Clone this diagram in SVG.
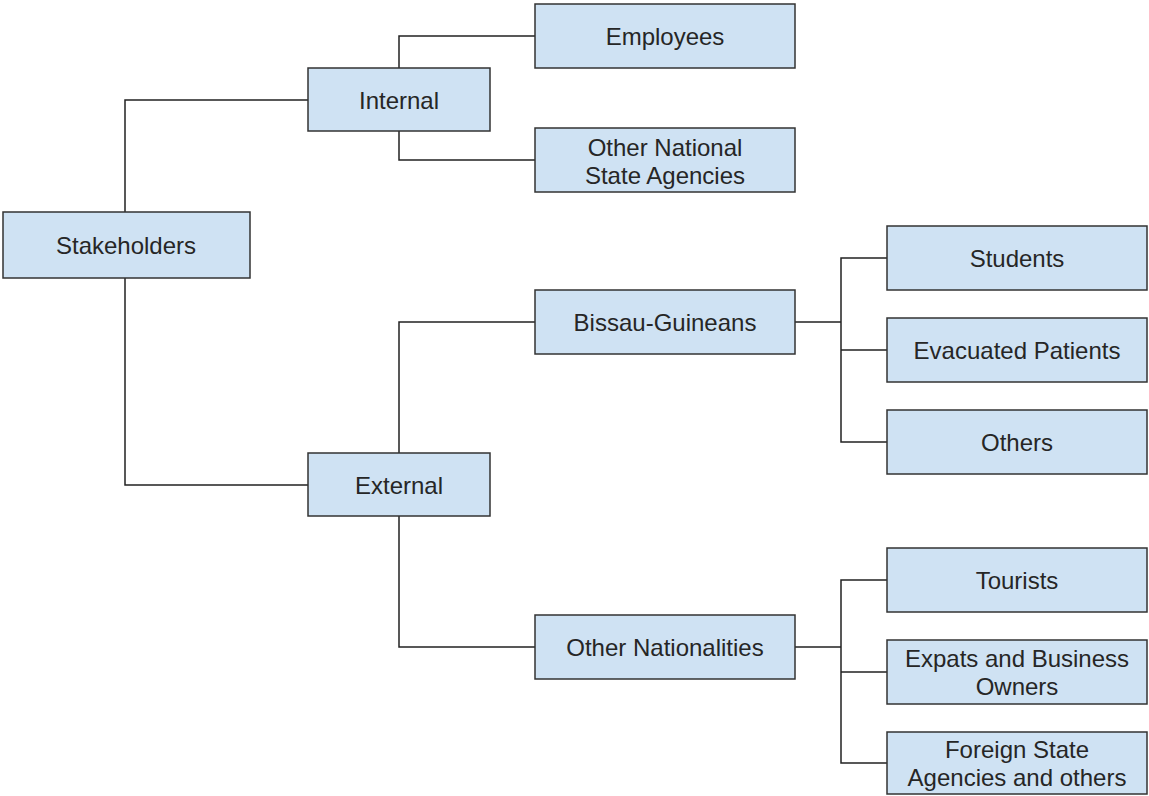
<svg xmlns="http://www.w3.org/2000/svg" width="1149" height="796" viewBox="0 0 1149 796">
<style>
.box{fill:#cfe2f3;stroke:#333;stroke-width:1.5}
.t{font-family:"Liberation Sans",Arial,sans-serif;font-size:24px;fill:#262626;text-anchor:middle;dominant-baseline:central}
.c{fill:none;stroke:#222;stroke-width:1.5}
</style>
<rect width="1149" height="796" fill="#fff"/>
<g id="connectors">
<path class="c" d="M125 212V100H308"/>
<path class="c" d="M125 278V485H308"/>
<path class="c" d="M399 68V36H535"/>
<path class="c" d="M399 131V160H535"/>
<path class="c" d="M399 453V322H535"/>
<path class="c" d="M399 516V647H535"/>
<path class="c" d="M795 322H841M887 258H841V442H887M841 350H887"/>
<path class="c" d="M795 647H841M887 580H841V763H887M841 672H887"/>
</g>
<g id="stakeholders"><rect class="box" x="3" y="212" width="247" height="66"/><text class="t" x="126" y="245">Stakeholders</text></g>
<g id="internal"><rect class="box" x="308" y="68" width="182" height="63"/><text class="t" x="399" y="100">Internal</text></g>
<g id="employees"><rect class="box" x="535" y="4" width="260" height="64"/><text class="t" x="665" y="36">Employees</text></g>
<g id="other-national"><rect class="box" x="535" y="128" width="260" height="64"/><text class="t" x="665" y="147">Other National</text><text class="t" x="665" y="175">State Agencies</text></g>
<g id="external"><rect class="box" x="308" y="453" width="182" height="63"/><text class="t" x="399" y="485">External</text></g>
<g id="bissau"><rect class="box" x="535" y="290" width="260" height="64"/><text class="t" x="665" y="322">Bissau-Guineans</text></g>
<g id="other-nationalities"><rect class="box" x="535" y="615" width="260" height="64"/><text class="t" x="665" y="647">Other Nationalities</text></g>
<g id="students"><rect class="box" x="887" y="226" width="260" height="64"/><text class="t" x="1017" y="258">Students</text></g>
<g id="evacuated"><rect class="box" x="887" y="318" width="260" height="64"/><text class="t" x="1017" y="350">Evacuated Patients</text></g>
<g id="others"><rect class="box" x="887" y="410" width="260" height="64"/><text class="t" x="1017" y="442">Others</text></g>
<g id="tourists"><rect class="box" x="887" y="548" width="260" height="64"/><text class="t" x="1017" y="580">Tourists</text></g>
<g id="expats"><rect class="box" x="887" y="640" width="260" height="64"/><text class="t" x="1017" y="658">Expats and Business</text><text class="t" x="1017" y="686">Owners</text></g>
<g id="foreign"><rect class="box" x="887" y="732" width="260" height="62"/><text class="t" x="1017" y="749">Foreign State</text><text class="t" x="1017" y="777">Agencies and others</text></g>
</svg>
